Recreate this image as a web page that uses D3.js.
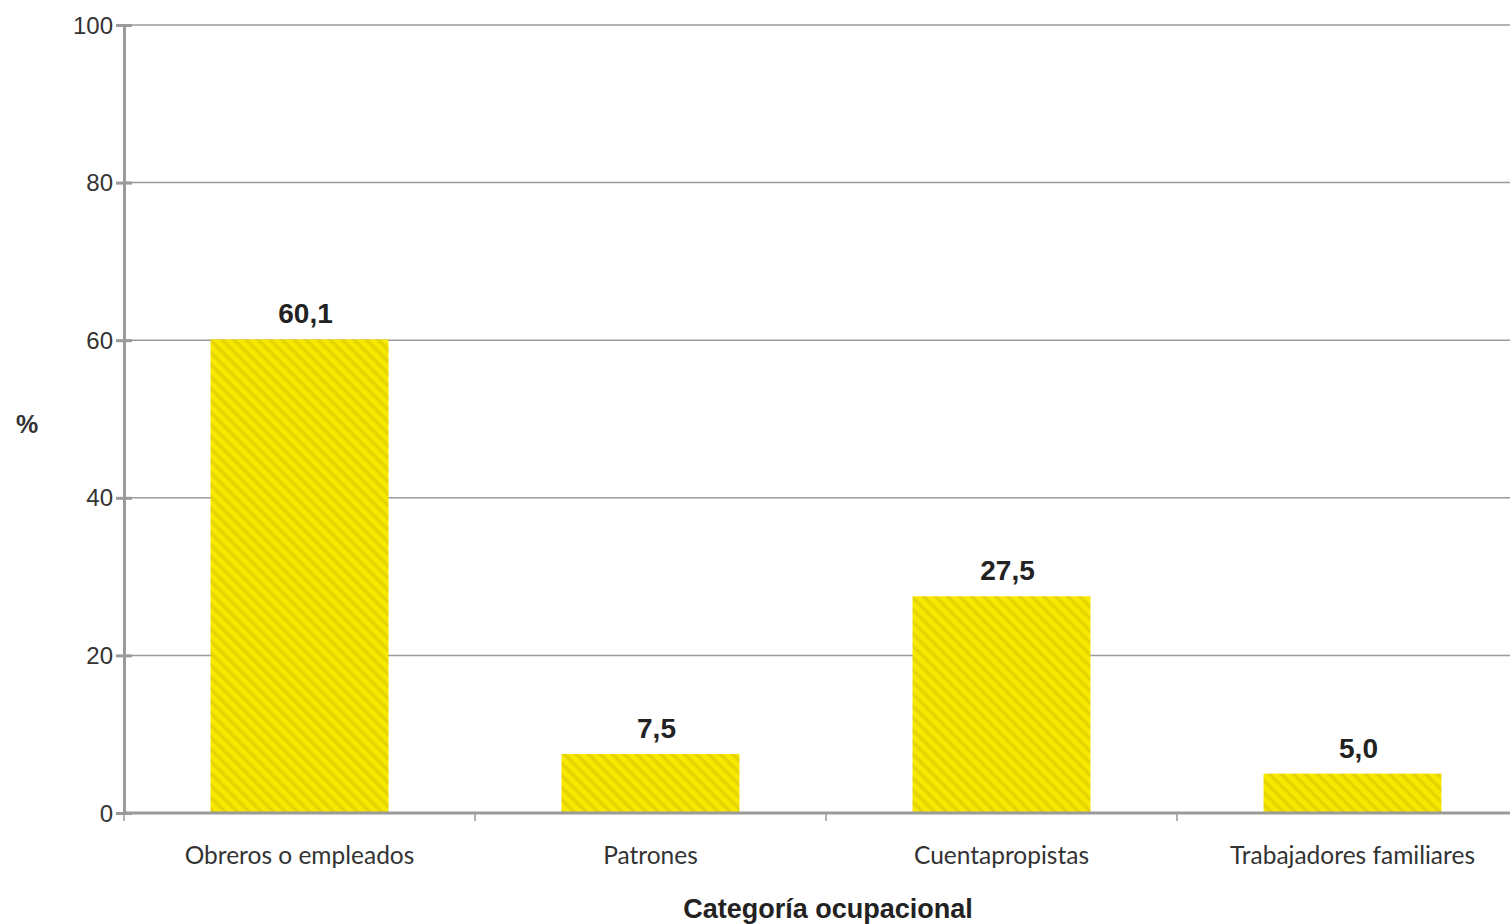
<!DOCTYPE html>
<html><head><meta charset="utf-8">
<script src="https://cdn.jsdelivr.net/npm/d3@7"></script>
<style>body{margin:0;background:#fff}svg{display:block}</style>
</head><body>
<script>
const categories = ["Obreros o empleados", "Patrones", "Cuentapropistas", "Trabajadores familiares"];
const values = [60.1, 7.5, 27.5, 5.0];
const valueLabels = ["60,1", "7,5", "27,5", "5,0"];
const yTicks = [0, 20, 40, 60, 80, 100];

const W = 1510, H = 924;
const m = {left: 124, top: 25, bottom: 111};
const plotRight = 124 + 351 * 4;
const svg = d3.select("body").append("svg").attr("width", W).attr("height", H);

const defs = svg.append("defs");
const pat = defs.append("pattern").attr("id", "hatch").attr("patternUnits", "userSpaceOnUse")
  .attr("width", 8.5).attr("height", 8.5).attr("patternTransform", "rotate(-45)");
pat.append("rect").attr("width", 8.5).attr("height", 8.5).attr("fill", "#f8e800");
pat.append("rect").attr("width", 3.5).attr("height", 8.5).attr("fill", "#e4d400");

const x = d3.scaleBand().domain(categories).range([m.left, plotRight]).paddingInner(0.493).paddingOuter(0.2465);
const y = d3.scaleLinear().domain([0, 100]).range([H - m.bottom, m.top]);

// gridlines
svg.append("g").selectAll("line").data(yTicks.filter(d => d > 0)).join("line")
  .attr("x1", m.left).attr("x2", W).attr("y1", d => y(d)).attr("y2", d => y(d))
  .attr("stroke", "#9a9a9a").attr("stroke-width", 1.5);

// bars
svg.append("g").selectAll("rect").data(values).join("rect")
  .attr("x", (d, i) => x(categories[i])).attr("width", x.bandwidth())
  .attr("y", d => y(d)).attr("height", d => y(0) - y(d))
  .attr("fill", "url(#hatch)");

// y axis
const ya = svg.append("g").attr("transform", `translate(${m.left},0)`)
  .call(d3.axisLeft(y).tickValues(yTicks).tickSize(8).tickPadding(3).tickSizeOuter(0));
ya.select(".domain").attr("stroke", "#9a9a9a").attr("stroke-width", 3);
ya.selectAll(".tick line").attr("stroke", "#9a9a9a").attr("stroke-width", 3).attr("x2", -16).attr("transform", "translate(8,0)");
ya.selectAll(".tick text").attr("font-family", "Liberation Sans, Arial, sans-serif").attr("font-size", 24)
  .attr("fill", "#333").attr("dy", "0.34em");

// x axis
const xBoundaries = d3.range(5).map(i => m.left + i * 351);
const xa = svg.append("g");
xa.append("line").attr("x1", m.left).attr("x2", W).attr("y1", y(0)).attr("y2", y(0))
  .attr("stroke", "#9a9a9a").attr("stroke-width", 3);
xa.selectAll("line.t").data(xBoundaries).join("line").attr("class", "t")
  .attr("x1", d => d).attr("x2", d => d).attr("y1", y(0)).attr("y2", y(0) + 8)
  .attr("stroke", "#9a9a9a").attr("stroke-width", 1.5);
xa.selectAll("text").data(categories).join("text")
  .attr("x", d => x(d) + x.bandwidth() / 2).attr("y", 864)
  .attr("text-anchor", "middle").attr("font-family", "Lato, sans-serif").attr("font-size", 24.5)
  .attr("fill", "#333").text(d => d);

// value labels
svg.append("g").selectAll("text").data(values).join("text")
  .attr("x", (d, i) => x(categories[i]) + x.bandwidth() / 2 + 6).attr("y", d => y(d) - 16)
  .attr("text-anchor", "middle").attr("font-family", "Liberation Sans, Arial, sans-serif")
  .attr("font-weight", "bold").attr("font-size", 28).attr("fill", "#222")
  .text((d, i) => valueLabels[i]);

// axis titles
svg.append("text").attr("x", 828).attr("y", 918).attr("text-anchor", "middle")
  .attr("font-family", "Liberation Sans, Arial, sans-serif").attr("font-weight", "bold")
  .attr("font-size", 27).attr("fill", "#222").text("Categoría ocupacional");
svg.append("text").attr("x", 27).attr("y", 433).attr("text-anchor", "middle")
  .attr("font-family", "Liberation Sans, Arial, sans-serif").attr("font-weight", "bold")
  .attr("font-size", 25).attr("fill", "#333").text("%");
</script>
</body></html>
